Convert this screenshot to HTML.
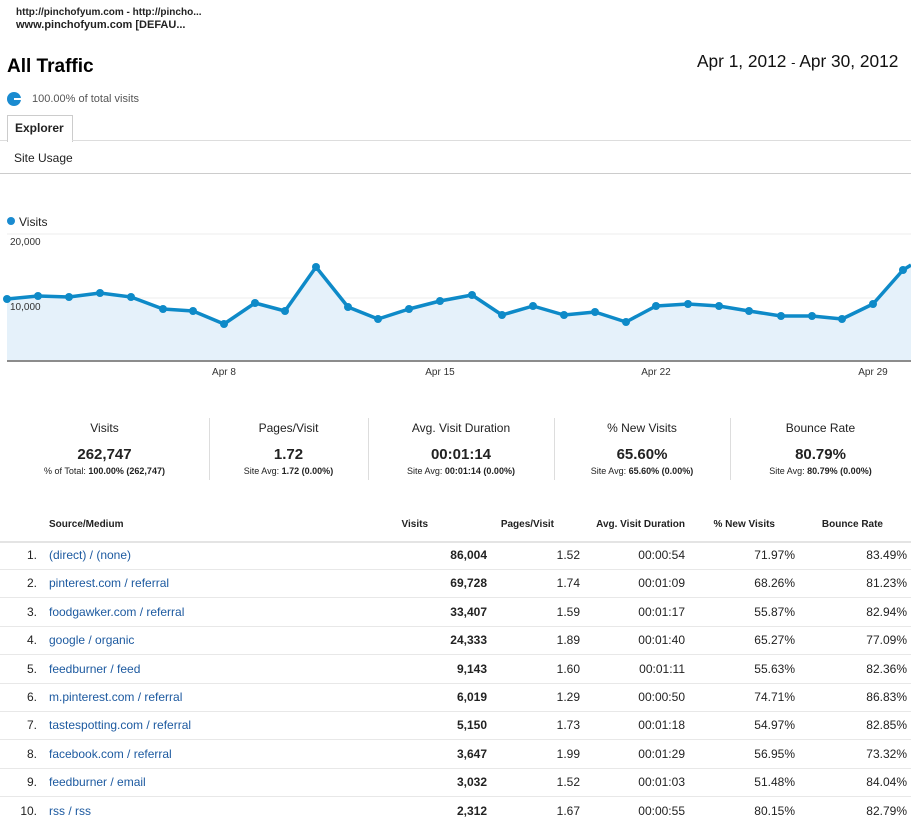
<!DOCTYPE html>
<html><head><meta charset="utf-8"><style>
body{margin:0;width:911px;height:833px;background:#fff;font-family:"Liberation Sans",sans-serif;position:relative;overflow:hidden;color:#222}
.a{position:absolute;white-space:nowrap}
.r{text-align:right}
.c{text-align:center}
.lk{color:#1d5aa0}
.hl{position:absolute;height:1px;background:#ddd}
.vl{position:absolute;width:1px;background:#ddd}
</style></head><body>
<div class="a" style="left:16px;top:7px;font-size:10px;font-weight:bold">http://pinchofyum.com - http://pincho...</div>
<div class="a" style="left:16px;top:19px;font-size:11px;font-weight:bold">www.pinchofyum.com [DEFAU...</div>
<div class="a" style="left:7px;top:56px;font-size:19px;font-weight:bold;color:#000">All Traffic</div>
<div class="a" style="left:697px;top:51px;font-size:17.3px;color:#111">Apr 1, 2012 <span style="font-size:13px">-</span> Apr 30, 2012</div>
<div class="a" style="left:7px;top:92px;width:14px;height:14px;border-radius:50%;background:#1a8bd0"></div>
<div class="a" style="left:14px;top:98px;width:7px;height:2px;background:#fff"></div>
<div class="a" style="left:32px;top:93px;font-size:11px;color:#555">100.00% of total visits</div>
<div class="a" style="left:7px;top:115px;width:64px;height:26px;border:1px solid #ccc;border-bottom:none;background:#fff"></div>
<div class="a" style="left:15px;top:121px;font-size:12px;font-weight:bold">Explorer</div>
<div class="hl" style="left:0;top:140px;width:7px"></div>
<div class="hl" style="left:72px;top:140px;width:839px"></div>
<div class="a" style="left:14px;top:151px;font-size:12px">Site Usage</div>
<div class="hl" style="left:0;top:173px;width:911px;background:#ccc"></div>
<div class="a" style="left:7px;top:217px;width:8px;height:8px;border-radius:50%;background:#1a8bd0"></div>
<div class="a" style="left:19px;top:215px;font-size:12px">Visits</div>
<svg class="a" style="left:0;top:0" width="911" height="400">
<line x1="7" y1="234" x2="911" y2="234" stroke="#eee"/>
<line x1="7" y1="298" x2="911" y2="298" stroke="#eee"/>
<polygon fill="#e5f1fa" points="7,360 7,299 38,296 69,297 100,293 131,297 163,309 193,311 224,324 255,303 285,311 316,267 348,307 378,319 409,309 440,301 472,295 502,315 533,306 564,315 595,312 626,322 656,306 688,304 719,306 749,311 781,316 812,316 842,319 873,304 903,270 911,265 911,360"/>
<polyline fill="none" stroke="#0e8ac8" stroke-width="3.5" stroke-linejoin="round" points="7,299 38,296 69,297 100,293 131,297 163,309 193,311 224,324 255,303 285,311 316,267 348,307 378,319 409,309 440,301 472,295 502,315 533,306 564,315 595,312 626,322 656,306 688,304 719,306 749,311 781,316 812,316 842,319 873,304 903,270 911,265"/>
<g fill="#0e8ac8">
<circle cx="7" cy="299" r="4"/><circle cx="38" cy="296" r="4"/><circle cx="69" cy="297" r="4"/><circle cx="100" cy="293" r="4"/><circle cx="131" cy="297" r="4"/><circle cx="163" cy="309" r="4"/><circle cx="193" cy="311" r="4"/><circle cx="224" cy="324" r="4"/><circle cx="255" cy="303" r="4"/><circle cx="285" cy="311" r="4"/><circle cx="316" cy="267" r="4"/><circle cx="348" cy="307" r="4"/><circle cx="378" cy="319" r="4"/><circle cx="409" cy="309" r="4"/><circle cx="440" cy="301" r="4"/><circle cx="472" cy="295" r="4"/><circle cx="502" cy="315" r="4"/><circle cx="533" cy="306" r="4"/><circle cx="564" cy="315" r="4"/><circle cx="595" cy="312" r="4"/><circle cx="626" cy="322" r="4"/><circle cx="656" cy="306" r="4"/><circle cx="688" cy="304" r="4"/><circle cx="719" cy="306" r="4"/><circle cx="749" cy="311" r="4"/><circle cx="781" cy="316" r="4"/><circle cx="812" cy="316" r="4"/><circle cx="842" cy="319" r="4"/><circle cx="873" cy="304" r="4"/><circle cx="903" cy="270" r="4"/>
</g>
<line x1="7" y1="361" x2="911" y2="361" stroke="#666" stroke-width="1.5"/>
<g font-size="10" fill="#333" font-family="Liberation Sans">
<text x="10" y="245">20,000</text><text x="10" y="310">10,000</text>
<text x="224" y="375" text-anchor="middle">Apr 8</text><text x="440" y="375" text-anchor="middle">Apr 15</text>
<text x="656" y="375" text-anchor="middle">Apr 22</text><text x="873" y="375" text-anchor="middle">Apr 29</text>
</g>
</svg>
<div class="vl" style="left:209px;top:418px;height:62px"></div>
<div class="vl" style="left:368px;top:418px;height:62px"></div>
<div class="vl" style="left:554px;top:418px;height:62px"></div>
<div class="vl" style="left:730px;top:418px;height:62px"></div>
<div class="a c" style="left:0;width:209px;top:421px;font-size:12px">Visits</div>
<div class="a c" style="left:0;width:209px;top:446px;font-size:15px;font-weight:bold">262,747</div>
<div class="a c" style="left:0;width:209px;top:466px;font-size:9px">% of Total: <b>100.00% (262,747)</b></div>
<div class="a c" style="left:209px;width:159px;top:421px;font-size:12px">Pages/Visit</div>
<div class="a c" style="left:209px;width:159px;top:446px;font-size:15px;font-weight:bold">1.72</div>
<div class="a c" style="left:209px;width:159px;top:466px;font-size:9px">Site Avg: <b>1.72 (0.00%)</b></div>
<div class="a c" style="left:368px;width:186px;top:421px;font-size:12px">Avg. Visit Duration</div>
<div class="a c" style="left:368px;width:186px;top:446px;font-size:15px;font-weight:bold">00:01:14</div>
<div class="a c" style="left:368px;width:186px;top:466px;font-size:9px">Site Avg: <b>00:01:14 (0.00%)</b></div>
<div class="a c" style="left:554px;width:176px;top:421px;font-size:12px">% New Visits</div>
<div class="a c" style="left:554px;width:176px;top:446px;font-size:15px;font-weight:bold">65.60%</div>
<div class="a c" style="left:554px;width:176px;top:466px;font-size:9px">Site Avg: <b>65.60% (0.00%)</b></div>
<div class="a c" style="left:730px;width:181px;top:421px;font-size:12px">Bounce Rate</div>
<div class="a c" style="left:730px;width:181px;top:446px;font-size:15px;font-weight:bold">80.79%</div>
<div class="a c" style="left:730px;width:181px;top:466px;font-size:9px">Site Avg: <b>80.79% (0.00%)</b></div>
<div class="hl" style="left:0;top:541px;width:911px;height:2px;background:#e4e4e4"></div>
<div style="font-size:10px;font-weight:bold">
<div class="a" style="left:49px;top:519px">Source/Medium</div>
<div class="a r" style="left:328px;width:100px;top:519px">Visits</div>
<div class="a r" style="left:454px;width:100px;top:519px">Pages/Visit</div>
<div class="a r" style="left:585px;width:100px;top:519px">Avg. Visit Duration</div>
<div class="a r" style="left:675px;width:100px;top:519px">% New Visits</div>
<div class="a r" style="left:783px;width:100px;top:519px">Bounce Rate</div>
</div>
<div id="rows"></div>
<script>
var d=[["(direct) / (none)","86,004","1.52","00:00:54","71.97%","83.49%"],["pinterest.com / referral","69,728","1.74","00:01:09","68.26%","81.23%"],["foodgawker.com / referral","33,407","1.59","00:01:17","55.87%","82.94%"],["google / organic","24,333","1.89","00:01:40","65.27%","77.09%"],["feedburner / feed","9,143","1.60","00:01:11","55.63%","82.36%"],["m.pinterest.com / referral","6,019","1.29","00:00:50","74.71%","86.83%"],["tastespotting.com / referral","5,150","1.73","00:01:18","54.97%","82.85%"],["facebook.com / referral","3,647","1.99","00:01:29","56.95%","73.32%"],["feedburner / email","3,032","1.52","00:01:03","51.48%","84.04%"],["rss / rss","2,312","1.67","00:00:55","80.15%","82.79%"]];
var h="";d.forEach(function(r,i){var t=548+i*28.4;
h+='<div class="a r" style="left:0;width:37px;top:'+t+'px;font-size:12px">'+(i+1)+'.</div>';
h+='<div class="a lk" style="left:49px;top:'+t+'px;font-size:12px">'+r[0]+'</div>';
h+='<div class="a r" style="left:387px;width:100px;top:'+t+'px;font-size:12px;font-weight:bold">'+r[1]+'</div>';
var xs=[580,685,795,907];for(var k=0;k<4;k++)h+='<div class="a r" style="left:'+(xs[k]-100)+'px;width:100px;top:'+t+'px;font-size:12px">'+r[k+2]+'</div>';
if(i<9)h+='<div class="hl" style="left:0;top:'+(t+21)+'px;width:911px;background:#e8e8e8"></div>';});
document.getElementById("rows").innerHTML=h;
</script>
</body></html>
